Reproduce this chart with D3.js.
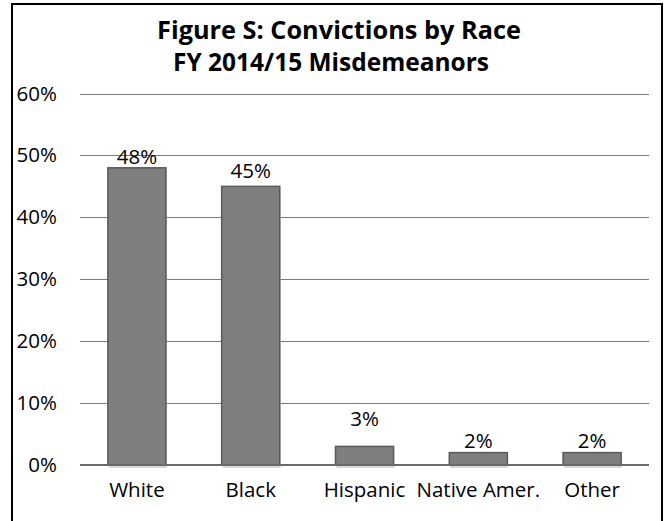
<!DOCTYPE html>
<html>
<head>
<meta charset="utf-8">
<script src="https://cdn.jsdelivr.net/npm/d3@7"></script>
<style>
  html, body { margin: 0; padding: 0; background: #fff; }
  svg { display: block; }
  text { font-family: "Open Sans", "Lato", sans-serif; fill: #000; }
</style>
</head>
<body>
<svg id="chart" width="665" height="521"></svg>
<script>
// ---- data ----
const categories = ["White", "Black", "Hispanic", "Native Amer.", "Other"];
const values = [0.48, 0.45, 0.03, 0.02, 0.02];
const valueLabels = ["48%", "45%", "3%", "2%", "2%"];
const yTicks = [0, 0.1, 0.2, 0.3, 0.4, 0.5, 0.6];
const titleText = "Figure S: Convictions by Race";
const subtitleText = "FY 2014/15 Misdemeanors";

// ---- styling / layout (not data) ----
const labelLift = [4, 8, 20, 5, 5];
const plot = { left: 80, right: 649, top: 93.5, bottom: 465 };

const svg = d3.select("#chart");

// outer frame
svg.append("rect")
  .attr("x", 12).attr("y", 4)
  .attr("width", 650).attr("height", 540)
  .attr("fill", "#fff").attr("stroke", "#000").attr("stroke-width", 2);

const x = d3.scaleBand().domain(categories)
  .range([plot.left, plot.right]).paddingInner(0.49).paddingOuter(0.245);
const y = d3.scaleLinear().domain([0, 0.6]).range([plot.bottom, plot.top]);

function fit(sel, target) {
  const node = sel.node();
  let fs = parseFloat(sel.attr("font-size"));
  const len = node.getComputedTextLength();
  if (len > 0) sel.attr("font-size", (fs * target / len).toFixed(2));
}

// title
const t1 = svg.append("text").attr("x", 339).attr("y", 39)
  .attr("text-anchor", "middle").attr("font-weight", "bold")
  .attr("font-size", 22).text(titleText);
fit(t1, 364);
const t2 = svg.append("text").attr("x", 331).attr("y", 71)
  .attr("text-anchor", "middle").attr("font-weight", "bold")
  .attr("font-size", 19).text(subtitleText);
fit(t2, 316);

// gridlines
svg.append("g").selectAll("line").data(yTicks.filter(d => d > 0)).join("line")
  .attr("x1", plot.left).attr("x2", plot.right)
  .attr("y1", d => Math.round(y(d)) + 0.5).attr("y2", d => Math.round(y(d)) + 0.5)
  .attr("stroke", "#7a7a7a").attr("stroke-width", 1);

// y axis labels
const yAxis = d3.axisLeft(y).tickValues(yTicks).tickFormat(d3.format(".0%"))
  .tickSize(0).tickPadding(0);
const gy = svg.append("g").attr("transform", `translate(57,0)`).call(yAxis);
gy.select(".domain").remove();
gy.selectAll("text").attr("font-size", 20.5)
  .attr("font-family", "'Open Sans', sans-serif").attr("fill", "#000");

// bars (shadow, then bar)
svg.append("g").selectAll("rect").data(values).join("rect")
  .attr("x", (d, i) => x(categories[i]) + 1)
  .attr("y", d => y(d) + 1)
  .attr("width", x.bandwidth())
  .attr("height", d => y(0) - y(d) + 2)
  .attr("fill", "#d9d9d9");
svg.append("g").selectAll("rect").data(values).join("rect")
  .attr("x", (d, i) => x(categories[i]))
  .attr("y", d => y(d))
  .attr("width", x.bandwidth())
  .attr("height", d => y(0) - y(d))
  .attr("fill", "#7f7f7f")
  .attr("stroke", "#5a5a5a").attr("stroke-width", 1.5);

// baseline axis
const xAxis = d3.axisBottom(x).tickSize(0).tickPadding(0);
const gx = svg.append("g").attr("transform", `translate(0,${plot.bottom})`).call(xAxis);
gx.select(".domain").remove();
gx.selectAll("text").attr("font-size", 20.5).attr("dy", 0).attr("y", 32)
  .attr("font-family", "'Open Sans', sans-serif").attr("fill", "#000");
svg.append("line").attr("x1", plot.left).attr("x2", plot.right)
  .attr("y1", plot.bottom).attr("y2", plot.bottom)
  .attr("stroke", "#6a6a6a").attr("stroke-width", 2.2);

// value labels
svg.append("g").selectAll("text").data(values).join("text")
  .attr("x", (d, i) => x(categories[i]) + x.bandwidth() / 2)
  .attr("y", (d, i) => y(d) - labelLift[i])
  .attr("text-anchor", "middle").attr("font-size", 20.5)
  .text((d, i) => valueLabels[i]);
</script>
</body>
</html>
